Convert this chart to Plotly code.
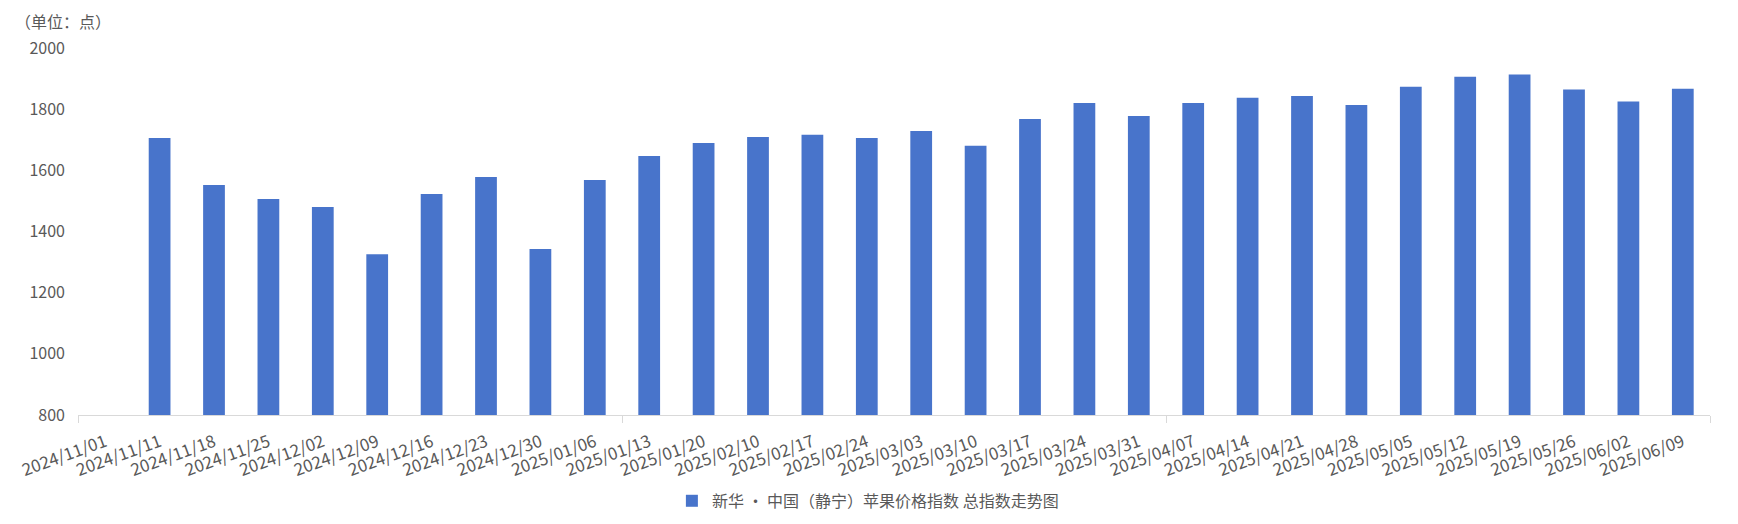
import plotly.graph_objects as go

# weekly index dates (first week has no value)
dates = [
    "2024/11/01", "2024/11/11", "2024/11/18", "2024/11/25", "2024/12/02",
    "2024/12/09", "2024/12/16", "2024/12/23", "2024/12/30", "2025/01/06",
    "2025/01/13", "2025/01/20", "2025/02/10", "2025/02/17", "2025/02/24",
    "2025/03/03", "2025/03/10", "2025/03/17", "2025/03/24", "2025/03/31",
    "2025/04/07", "2025/04/14", "2025/04/21", "2025/04/28", "2025/05/05",
    "2025/05/12", "2025/05/19", "2025/05/26", "2025/06/02", "2025/06/09",
]
index_values = [
    None, 1706, 1552, 1506, 1480, 1326, 1523, 1578, 1343, 1568,
    1647, 1689, 1709, 1716, 1706, 1729, 1680, 1768, 1820, 1778,
    1820, 1837, 1843, 1814, 1873, 1906, 1913, 1864, 1825, 1867,
]
series_name = "新华 ・ 中国（静宁）苹果价格指数 总指数走势图"
unit_text = "（单位：点）"
y_ticks = [800, 1000, 1200, 1400, 1600, 1800, 2000]

BAR_COLOR = "#4874CB"
TEXT_COLOR = "#595959"
AXIS_COLOR = "#D9D9D9"
FONT = "Noto Sans CJK SC"

positions = list(range(len(dates)))

fig = go.Figure(
    go.Bar(
        x=positions,
        y=index_values,
        name=series_name,
        marker=dict(color=BAR_COLOR, line=dict(width=0)),
        width=0.4,
        showlegend=True,
    )
)

# the page body adds an 8px offset, so the figure is 8px smaller than the window
fig.update_layout(
    width=1730,
    height=516,
    margin=dict(l=70, r=28, t=40, b=109, autoexpand=False),
    paper_bgcolor="white",
    plot_bgcolor="white",
    font=dict(family=FONT, size=16, color=TEXT_COLOR),
    showlegend=True,
    legend=dict(
        orientation="h",
        x=0.484,
        xanchor="center",
        y=-0.234,
        yanchor="middle",
        font=dict(family=FONT, size=16, color=TEXT_COLOR),
        itemwidth=30,
    ),
    xaxis=dict(
        range=[-0.5, len(dates) - 0.5],
        tickmode="array",
        tickvals=positions,
        ticktext=dates,
        tickangle=-20,
        ticks="",
        ticklabelstandoff=10,
        automargin=False,
        showgrid=False,
        zeroline=False,
        showline=True,
        linecolor=AXIS_COLOR,
        linewidth=1,
        tickfont=dict(family=FONT, size=17, color=TEXT_COLOR),
        minor=dict(
            tickmode="array",
            tickvals=[-0.5, 9.5, 19.5, 29.5],
            ticks="outside",
            ticklen=7,
            tickwidth=1,
            tickcolor=AXIS_COLOR,
            showgrid=False,
        ),
        fixedrange=True,
    ),
    yaxis=dict(
        range=[800, 2000],
        tickmode="array",
        tickvals=y_ticks,
        showgrid=False,
        zeroline=False,
        showline=False,
        ticks="",
        ticklabelstandoff=12,
        automargin=False,
        tickfont=dict(family=FONT, size=16, color=TEXT_COLOR),
        fixedrange=True,
    ),
    annotations=[
        dict(
            text=unit_text,
            xref="paper",
            yref="paper",
            x=-0.04,
            y=1.074,
            xanchor="left",
            yanchor="middle",
            showarrow=False,
            font=dict(family=FONT, size=16, color=TEXT_COLOR),
        )
    ],
)

fig.write_html("out.html")
